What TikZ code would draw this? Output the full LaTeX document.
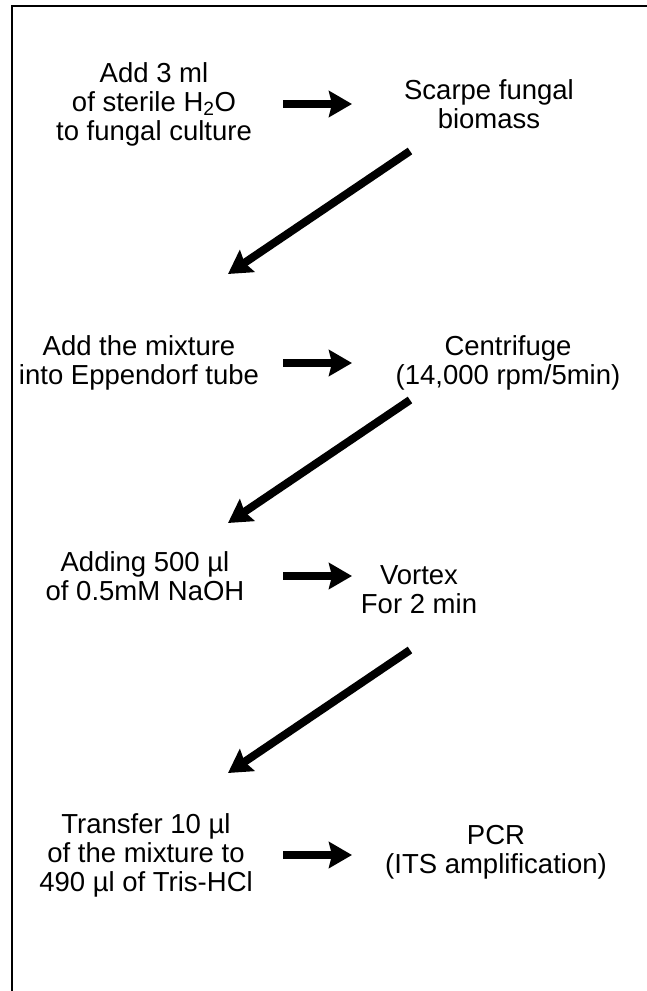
\documentclass[tikz,border=0pt]{standalone}
\usepackage{fontspec}
\setmainfont{Liberation Sans}
\usepackage{xcolor}
\definecolor{flowInk}{HTML}{000000}
\usetikzlibrary{arrows.meta}

\begin{document}
\begin{tikzpicture}[x=1pt, y=-1pt,
  stepText/.style={align=center, inner sep=0pt, font=\fontsize{27.5}{29}\selectfont},
  flowArrow/.style={flowInk, line width=8pt, -{Stealth[length=23pt, width=26pt, inset=3pt]}}]
  \useasboundingbox (0,0) rectangle (647,991);
  \draw[flowInk, line width=2.5pt] (12,991) -- (12,6) -- (647,6);
  % left column
  \node[stepText] (addWater) at (154,104) {Add 3 ml\\of sterile H\textsubscript{2}O\\to fungal culture};
  \node[stepText] (addTube) at (139,363) {Add the mixture\\into Eppendorf tube};
  \node[stepText] (addNaOH) at (145,576) {Adding 500 µl\\of 0.5mM NaOH};
  \node[stepText] (transfer) at (146,855) {Transfer 10 µl\\of the mixture to\\490 µl of Tris-HCl};
  % right column
  \node[stepText] (scrape) at (489,104) {Scarpe fungal\\biomass};
  \node[stepText] (centrifuge) at (508,363) {Centrifuge\\(14,000 rpm/5min)};
  \node[stepText] (vortex) at (419,590) {Vortex\\For 2 min};
  \node[stepText] (pcr) at (496,852) {PCR\\(ITS amplification)};
  % across
  \draw[flowArrow, shorten <=129pt, shorten >=137pt] (addWater.center) -- (addWater.center -| scrape.center);
  \draw[flowArrow, shorten <=144pt, shorten >=156pt] (addTube.center) -- (addTube.center -| centrifuge.center);
  \draw[flowArrow, shorten <=138pt, shorten >=67pt] (addNaOH.center) -- (addNaOH.center -| vortex.center);
  \draw[flowArrow, shorten <=137pt, shorten >=144pt] (transfer.center) -- (transfer.center -| pcr.center);
  % down to next row
  \draw[flowArrow] ([shift={(-79,47)}]scrape.center) -- ([shift={(89,-89)}]addTube.center);
  \draw[flowArrow] ([shift={(-98,37)}]centrifuge.center) -- ([shift={(83,-53)}]addNaOH.center);
  \draw[flowArrow] ([shift={(-9,60)}]vortex.center) -- ([shift={(82,-82)}]transfer.center);
\end{tikzpicture}
\end{document}
